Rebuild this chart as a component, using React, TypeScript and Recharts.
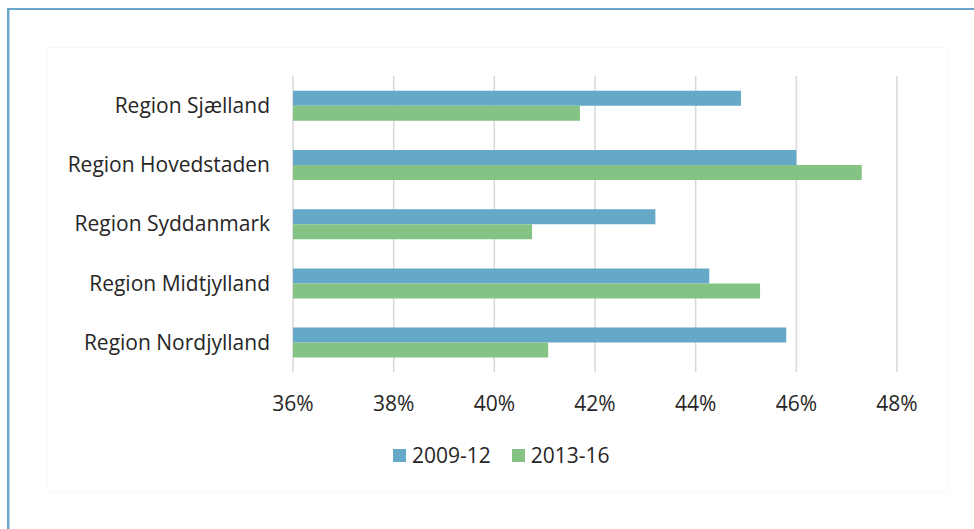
import React from 'react';
import { BarChart, Bar, XAxis, YAxis, CartesianGrid, Legend } from 'recharts';

const regions = [
  'Region Sjælland',
  'Region Hovedstaden',
  'Region Syddanmark',
  'Region Midtjylland',
  'Region Nordjylland',
];
const share2009 = [44.9, 46.0, 43.2, 44.27, 45.8];
const share2013 = [41.7, 47.3, 40.75, 45.28, 41.07];
const xTicks = [36, 38, 40, 42, 44, 46, 48];
const seriesNames = ['2009-12', '2013-16'];

const BLUE = '#66a8c8';
const GREEN = '#84c383';
const FONT = '"Open Sans", sans-serif';

const data = regions.map((name, i) => ({
  name,
  a: share2009[i],
  b: share2013[i],
}));

function LegendBox() {
  const colors = [BLUE, GREEN];
  return (
    <div style={{ display: 'flex', alignItems: 'center', fontFamily: FONT, fontSize: 21, color: '#262626' }}>
      {seriesNames.map((s, i) => (
        <div key={s} style={{ display: 'flex', alignItems: 'center', marginRight: 21 }}>
          <div style={{ width: 13, height: 13, background: colors[i], marginRight: 6 }} />
          <span>{s}</span>
        </div>
      ))}
    </div>
  );
}

export default function App() {
  return (
    <div style={{ position: 'absolute', left: 0, top: 0, width: 974, height: 529, background: '#fff', overflow: 'hidden' }}>
      <div style={{ position: 'absolute', left: 8, top: 8, right: 0, height: 2, background: '#6aa5c9' }} />
      <div style={{ position: 'absolute', left: 7, top: 8, width: 2, bottom: 0, background: '#6aa5c9' }} />
      <div style={{ position: 'absolute', left: 9, top: 10, width: 1, bottom: 0, background: '#b9d6e8' }} />
      <div style={{ position: 'absolute', left: 47, top: 47, width: 899, height: 443, border: '1px solid #f8f8f8' }} />
      <div style={{ position: 'absolute', left: 0, top: 0 }}>
        <BarChart
          layout="vertical"
          width={974}
          height={529}
          data={data}
          margin={{ top: 76, right: 77, bottom: 127, left: 0 }}
          barCategoryGap="25%"
          barGap={0}
        >
          <CartesianGrid horizontal={false} stroke="#d9d9d9" strokeWidth={1.5} />
          <XAxis
            type="number"
            domain={[36, 48]}
            ticks={xTicks}
            allowDataOverflow
            tickFormatter={(v) => `${v}%`}
            axisLine={false}
            tickLine={false}
            tickSize={0}
            tickMargin={24}
            height={30}
            tick={{ fill: '#262626', fontSize: 21, fontFamily: FONT }}
          />
          <YAxis
            type="category"
            dataKey="name"
            width={293}
            axisLine={false}
            tickLine={false}
            tickSize={0}
            tickMargin={23}
            tick={{ fill: '#262626', fontSize: 21, fontFamily: FONT }}
          />
          <Legend
            layout="horizontal"
            verticalAlign="middle"
            align="center"
            wrapperStyle={{ left: 393, top: 441, width: 280 }}
            content={() => <LegendBox />}
          />
          <Bar dataKey="a" name={seriesNames[0]} fill={BLUE} isAnimationActive={false} />
          <Bar dataKey="b" name={seriesNames[1]} fill={GREEN} isAnimationActive={false} />
        </BarChart>
      </div>
    </div>
  );
}
